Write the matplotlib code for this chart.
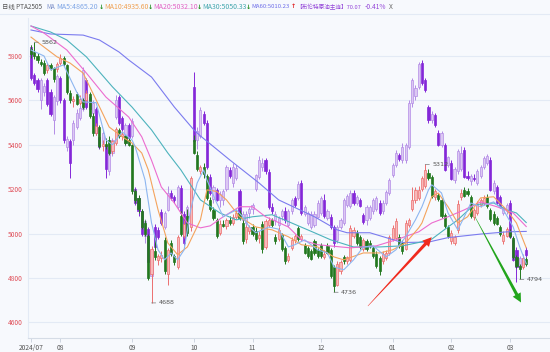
import numpy as np
import matplotlib
matplotlib.use('Agg')
import matplotlib.pyplot as plt
from matplotlib.patches import Polygon
from matplotlib.transforms import IdentityTransform
from matplotlib.lines import Line2D

plt.rcParams['font.family'] = ['Noto Sans CJK SC', 'DejaVu Sans']

# 交易日按月份
month_labels = ['2024/07', '08', '09', '10', '11', '12', '01', '02', '03']
month_days = [9, 22, 19, 18, 21, 22, 18, 18, 6]

# PTA2505 日线 OHLC
pta_open = [5830, 5820, 5800, 5775, 5770, 5735, 5760, 5745, 5740, 5770,
            5790, 5760, 5635, 5595, 5630, 5590, 5600, 5600, 5630, 5530,
            5455, 5480, 5395, 5405, 5420, 5370, 5410, 5465, 5440, 5440,
            5420, 5400, 5190, 5160, 5100, 5050, 4990, 4820, 4920, 4880,
            4890, 4970, 4820, 4960, 4900, 4850, 5080, 4990, 5080, 5030,
            5420, 5355, 5280, 5300, 5260, 5150, 5105, 5060, 5005, 5045,
            5035, 5060, 5050, 5075, 5095, 5050, 4975, 5010, 5030, 5010,
            4980, 5045, 4940, 5040, 5060, 4985, 4975, 4995, 4935, 4880,
            4935, 4970, 5025, 4975, 4950, 4935, 4920, 4965, 4925, 4950,
            4895, 4945, 4925, 4850, 4770, 4830, 4895, 4875, 4880, 4990,
            5005, 4985, 4930, 4965, 4960, 4935, 4910, 4890, 4875, 4890,
            4915, 4975, 4980, 4985, 4960, 4930, 5040, 5110, 5150, 5160,
            5200, 5215, 5275, 5255, 5165, 5175, 5150, 5085, 5030, 4965,
            4960, 5015, 5165, 5195, 5190, 5165, 5075, 5095, 5130, 5140,
            5165, 5105, 5090, 5070, 5030, 4965, 4990, 5010, 4980, 4895,
            4855, 4850, 4885]
pta_high = [5850, 5862, 5815, 5785, 5780, 5770, 5770, 5750, 5775, 5810,
            5800, 5765, 5645, 5620, 5640, 5625, 5610, 5645, 5640, 5545,
            5500, 5490, 5420, 5430, 5440, 5420, 5480, 5475, 5460, 5445,
            5430, 5405, 5200, 5175, 5110, 5060, 5000, 4945, 4990, 4910,
            4920, 4985, 4935, 4970, 4910, 4995, 5100, 5060, 5110, 5260,
            5445, 5370, 5310, 5320, 5270, 5165, 5120, 5070, 5060, 5060,
            5070, 5080, 5090, 5110, 5105, 5060, 5040, 5040, 5045, 5030,
            5010, 5055, 5065, 5075, 5070, 5000, 5030, 5005, 4945, 4915,
            4985, 5000, 5035, 5000, 4960, 4945, 4930, 4975, 4935, 4960,
            4925, 4960, 4935, 4860, 4875, 4880, 4905, 4900, 5040, 5030,
            5015, 4995, 4980, 4975, 4970, 4945, 4920, 4900, 4920, 4925,
            4995, 5040, 5070, 5000, 4970, 5060, 5070, 5210, 5210, 5215,
            5260, 5312, 5290, 5265, 5200, 5185, 5160, 5095, 5040, 5015,
            4995, 5150, 5200, 5210, 5205, 5175, 5115, 5145, 5160, 5175,
            5180, 5115, 5100, 5080, 5040, 5010, 5030, 5020, 4990, 4905,
            4865, 4900, 4895]
pta_low = [5790, 5785, 5770, 5755, 5715, 5725, 5735, 5685, 5730, 5760,
           5755, 5630, 5590, 5570, 5580, 5580, 5560, 5590, 5520, 5440,
           5445, 5385, 5370, 5380, 5355, 5360, 5400, 5430, 5420, 5400,
           5395, 5180, 5140, 5095, 5020, 4990, 4790, 4688, 4880, 4860,
           4870, 4820, 4770, 4900, 4860, 4840, 4990, 4980, 4990, 5010,
           5360, 5280, 5270, 5250, 5150, 5100, 5060, 4980, 4995, 5030,
           5020, 5040, 5040, 5065, 5060, 4955, 4960, 5000, 4990, 4965,
           4960, 4915, 4930, 5030, 5030, 4955, 4965, 4920, 4865, 4870,
           4925, 4960, 4965, 4965, 4910, 4890, 4880, 4905, 4890, 4890,
           4885, 4910, 4800, 4736, 4765, 4820, 4865, 4865, 4870, 4980,
           4950, 4930, 4920, 4920, 4935, 4890, 4845, 4815, 4865, 4880,
           4905, 4965, 4970, 4935, 4910, 4925, 5030, 5100, 5140, 5150,
           5190, 5205, 5240, 5160, 5150, 5145, 5070, 5025, 4980, 4955,
           4950, 5005, 5150, 5165, 5170, 5070, 5060, 5085, 5120, 5130,
           5115, 5055, 5040, 5040, 4990, 4955, 4985, 4980, 4885, 4845,
           4794, 4840, 4855]
pta_close = [5810, 5800, 5780, 5765, 5725, 5760, 5745, 5695, 5765, 5790,
             5765, 5640, 5600, 5605, 5585, 5605, 5570, 5635, 5530, 5455,
             5485, 5395, 5405, 5395, 5365, 5415, 5470, 5440, 5450, 5410,
             5400, 5190, 5150, 5110, 5030, 5000, 4800, 4930, 4895, 4900,
             4905, 4830, 4925, 4910, 4870, 4985, 5000, 5045, 5005, 5250,
             5365, 5290, 5300, 5270, 5160, 5110, 5070, 4990, 5045, 5035,
             5060, 5050, 5075, 5095, 5070, 4965, 5030, 5030, 5000, 4975,
             4995, 4930, 5055, 5060, 5040, 4965, 5015, 4930, 4875, 4900,
             4970, 4990, 4975, 4990, 4915, 4900, 4885, 4915, 4900, 4900,
             4910, 4915, 4810, 4765, 4865, 4870, 4875, 4895, 5025, 5015,
             4960, 4940, 4970, 4930, 4945, 4900, 4855, 4830, 4910, 4915,
             4985, 5025, 5055, 4945, 4920, 5050, 5060, 5150, 5195, 5195,
             5250, 5285, 5250, 5170, 5190, 5155, 5080, 5035, 4990, 5005,
             4985, 5135, 5185, 5170, 5180, 5080, 5105, 5135, 5150, 5160,
             5125, 5065, 5050, 5045, 5000, 4995, 5020, 4990, 4895, 4855,
             4840, 4890, 4865]

# 布伦特原油主连 (叠加, 按主图刻度)
brent_open = [5840, 5715, 5690, 5600, 5640, 5690, 5640, 5510, 5595, 5700,
              5600, 5390, 5415, 5420, 5480, 5520, 5560, 5690, 5615, 5545,
              5560, 5435, 5408, 5400, 5280, 5365, 5525, 5615, 5520, 5410,
              5490, 5440, 5200, 5160, 5100, 4990, 5020, 4810, 5030, 5017,
              5098, 5030, 5107, 5185, 5165, 5120, 5206, 5090, 5050, 5120,
              5660, 5420, 5440, 5540, 5500, 5256, 5155, 5195, 5150, 5150,
              5200, 5285, 5230, 5250, 5190, 5060, 5050, 5095, 5110, 5200,
              5256, 5300, 5330, 5278, 5120, 5060, 5040, 5080, 5100, 5040,
              5100, 5160, 5160, 5228, 5090, 5050, 5030, 5040, 5076, 5093,
              5150, 5070, 5076, 5030, 4970, 5030, 5050, 5130, 5125, 5183,
              5140, 5150, 5085, 5062, 5070, 5100, 5110, 5138, 5100, 5138,
              5183, 5265, 5310, 5355, 5332, 5330, 5390, 5588, 5620, 5660,
              5768, 5692, 5570, 5510, 5535, 5453, 5400, 5400, 5310, 5320,
              5240, 5280, 5290, 5377, 5260, 5235, 5250, 5230, 5260, 5300,
              5320, 5332, 5190, 5210, 5166, 5093, 5100, 5138, 4972, 4927,
              4850, 4860, 4927]
brent_high = [5850, 5725, 5700, 5700, 5680, 5700, 5650, 5625, 5720, 5710,
              5610, 5440, 5425, 5510, 5560, 5580, 5750, 5700, 5625, 5600,
              5570, 5445, 5460, 5410, 5385, 5430, 5625, 5625, 5530, 5500,
              5500, 5520, 5210, 5170, 5110, 5065, 5030, 4935, 5045, 5030,
              5110, 5100, 5215, 5195, 5175, 5220, 5220, 5100, 5130, 5200,
              5728, 5480, 5570, 5550, 5510, 5270, 5220, 5205, 5190, 5200,
              5310, 5300, 5320, 5310, 5200, 5100, 5100, 5120, 5140, 5270,
              5350, 5340, 5340, 5290, 5140, 5100, 5080, 5110, 5120, 5110,
              5160, 5170, 5235, 5240, 5130, 5100, 5100, 5100, 5150, 5170,
              5180, 5110, 5090, 5040, 5040, 5070, 5160, 5180, 5195, 5195,
              5175, 5160, 5095, 5130, 5130, 5160, 5170, 5150, 5150, 5195,
              5250, 5320, 5375, 5365, 5410, 5410, 5600, 5700, 5670, 5775,
              5780, 5700, 5580, 5550, 5545, 5465, 5460, 5410, 5350, 5330,
              5300, 5380, 5395, 5390, 5280, 5270, 5270, 5290, 5310, 5350,
              5360, 5345, 5240, 5220, 5175, 5125, 5140, 5150, 4985, 4940,
              4900, 4910, 4940]
brent_low = [5690, 5670, 5640, 5560, 5620, 5575, 5530, 5450, 5580, 5590,
             5410, 5370, 5250, 5400, 5470, 5510, 5550, 5560, 5550, 5530,
             5445, 5380, 5395, 5250, 5265, 5350, 5515, 5490, 5460, 5395,
             5420, 5430, 5130, 5080, 4990, 4960, 4860, 4780, 4930, 4975,
             5040, 5020, 5100, 5150, 5140, 5110, 5085, 4950, 5040, 5110,
             5400, 5380, 5430, 5490, 5290, 5175, 5140, 5145, 5120, 5130,
             5190, 5250, 5210, 5240, 5090, 5040, 5030, 5070, 5090, 5190,
             5245, 5280, 5270, 5110, 5090, 5040, 5030, 5060, 5050, 5030,
             5090, 5120, 5150, 5085, 5080, 5040, 5020, 5030, 5070, 5085,
             5070, 5060, 5020, 4940, 4960, 5020, 5040, 5120, 5115, 5130,
             5130, 5120, 5045, 5040, 5060, 5090, 5100, 5085, 5090, 5130,
             5175, 5255, 5300, 5325, 5320, 5320, 5380, 5570, 5600, 5650,
             5670, 5640, 5500, 5500, 5480, 5395, 5390, 5280, 5300, 5240,
             5230, 5270, 5280, 5250, 5240, 5220, 5235, 5220, 5250, 5290,
             5310, 5190, 5180, 5130, 5115, 5085, 5090, 4980, 4875, 4780,
             4840, 4850, 4895]
brent_close = [5700, 5680, 5650, 5690, 5665, 5585, 5540, 5615, 5710, 5600,
               5420, 5425, 5320, 5500, 5545, 5565, 5735, 5570, 5560, 5590,
               5455, 5390, 5453, 5290, 5375, 5420, 5600, 5500, 5470, 5490,
               5430, 5505, 5140, 5100, 5000, 5055, 4870, 4925, 4940, 4985,
               5048, 5093, 5185, 5160, 5150, 5210, 5095, 4960, 5120, 5190,
               5415, 5460, 5555, 5500, 5300, 5185, 5210, 5150, 5180, 5190,
               5300, 5260, 5300, 5295, 5095, 5090, 5090, 5110, 5130, 5265,
               5330, 5320, 5280, 5120, 5100, 5090, 5070, 5100, 5060, 5100,
               5150, 5130, 5225, 5093, 5120, 5093, 5090, 5090, 5138, 5160,
               5080, 5100, 5030, 4958, 5030, 5060, 5150, 5170, 5185, 5138,
               5165, 5125, 5053, 5120, 5120, 5150, 5160, 5093, 5140, 5188,
               5242, 5310, 5363, 5335, 5390, 5400, 5588, 5692, 5655, 5765,
               5680, 5647, 5512, 5540, 5490, 5400, 5453, 5287, 5345, 5245,
               5290, 5370, 5365, 5256, 5250, 5260, 5245, 5280, 5300, 5340,
               5350, 5197, 5230, 5138, 5120, 5120, 5130, 4986, 4882, 4850,
               4890, 4890, 4905]

# 均线 (读图取点)
ma5_idx = [0, 4, 6, 10, 14, 16, 20, 23, 25, 28, 31, 32, 35, 37, 39, 41, 43, 45, 47, 49,
           51, 53, 54, 57, 59, 63, 65, 67, 69, 73, 76, 79, 81, 84, 88, 91, 93, 96, 99,
           102, 105, 109, 112, 115, 118, 120, 122, 123, 126, 128, 131, 133, 135, 138,
           142, 145, 148, 150, 152]
ma5_val = [5827, 5800, 5737, 5760, 5638, 5593, 5590, 5422, 5400, 5458, 5422, 5390, 5242,
           5048, 4927, 4882, 4913, 4882, 4927, 5107, 5228, 5287, 5242, 5138, 5076, 5107,
           5076, 5030, 5004, 5030, 5020, 4940, 4950, 4972, 4927, 4913, 4850, 4837, 4882,
           4940, 4945, 4895, 4927, 4986, 5062, 5121, 5197, 5220, 5183, 5093, 5017, 5076,
           5138, 5121, 5143, 5107, 5030, 4940, 4865]
ma10_idx = [0, 4, 8, 12, 16, 20, 24, 28, 31, 34, 36, 39, 42, 45, 48, 52, 54, 57, 60, 64,
            69, 74, 79, 83, 88, 93, 96, 102, 107, 111, 115, 119, 120, 123, 125, 128, 131,
            134, 138, 142, 146, 149, 152]
ma10_val = [5885, 5840, 5796, 5768, 5723, 5602, 5480, 5436, 5408, 5363, 5287, 5107, 4958,
            4905, 4940, 5062, 5197, 5190, 5152, 5076, 5030, 5017, 4986, 4950, 4940, 4895,
            4882, 4913, 4913, 4927, 4958, 5026, 5048, 5166, 5183, 5121, 5048, 5076, 5161,
            5166, 5107, 5048, 4936]
ma20_idx = [0, 4, 11, 17, 23, 30, 34, 37, 40, 44, 48, 52, 55, 59, 64, 68, 72, 79, 83, 88,
            98, 106, 112, 119, 123, 128, 133, 138, 143, 148, 152]
ma20_val = [5935, 5903, 5827, 5723, 5615, 5525, 5436, 5330, 5210, 5138, 5048, 5026, 5035,
            5076, 5121, 5121, 5076, 5030, 4972, 4950, 4936, 4945, 4972, 5008, 5048, 5076,
            5107, 5143, 5121, 5093, 5032]
ma30_idx = [0, 6, 11, 17, 25, 31, 37, 42, 46, 52, 58, 63, 68, 74, 80, 87, 92, 99, 107, 114,
            119, 123, 128, 131, 136, 142, 146, 149, 152]
ma30_val = [5935, 5908, 5872, 5796, 5661, 5570, 5467, 5363, 5287, 5152, 5093, 5062, 5076,
            5085, 5048, 5004, 4972, 4940, 4940, 4945, 4960, 4975, 5030, 5062, 5130, 5138,
            5107, 5093, 5050]
ma60_idx = [0, 6, 16, 21, 27, 30, 37, 44, 50, 52, 61, 70, 76, 87, 94, 97, 104, 114, 122,
            128, 138, 146, 152]
ma60_val = [5917, 5899, 5894, 5872, 5818, 5782, 5705, 5570, 5467, 5440, 5332, 5228, 5152,
            5076, 5017, 5004, 5004, 4960, 4962, 4982, 4998, 5008, 5010]

# 高低点标注 (index, value)
marks = [(1, 5862), (37, 4688), (93, 4736), (121, 5312), (150, 4794)]

# 箭头 (index, price): 起点, 终点
red_arrow = [(103.4, 4674), (123, 4984)]
green_arrow = [(136.3, 5075), (150.4, 4690)]

# 顶部说明栏: 文本, 左端像素, 颜色, 字号
header_items = [
    ('日线 PTA2505', 2, '#555555', 4.6),
    ('MA', 46, '#7c8fc8', 4.4),
    ('MA5:4865.20', 56, '#7fa6e6', 5.1),
    ('MA10:4935.60', 104, '#f0a050', 5.0),
    ('MA20:5032.10', 153, '#e262c4', 5.0),
    ('MA30:5050.33', 202, '#43a7ae', 5.0),
    ('MA60:5010.23', 251, '#6c6ce8', 4.3),
    ('【布伦特原油主连】70.07', 296, '#9446d8', 4.1),
    ('-0.41%', 365, '#9446d8', 4.8),
    ('X', 389, '#666666', 4.8),
]
header_arrows = [('↓', 98.5, '#1e8c1e'), ('↓', 147.5, '#1e8c1e'), ('↓', 196.5, '#1e8c1e'),
                 ('↓', 245.5, '#1e8c1e'), ('↑', 290.5, '#e02828')]

W, H = 550, 352
bg = '#f7f9fd'
fig = plt.figure(figsize=(W / 100, H / 100), dpi=100, facecolor=bg)
ax = fig.add_axes([28 / W, (H - 338) / H, (W - 28) / W, (338 - 18) / H])
ax.set_facecolor(bg)

n = len(pta_close)
xs = np.arange(n)
ax.set_xlim(-0.92, 159.3)
ax.set_ylim(4530, 5971)

# 网格
for v in range(4600, 5801, 200):
    ax.axhline(v, color='#e3eaf5', lw=0.8, zorder=0)


def draw_candles(o, h, l, c, up_face, up_edge, down_face, z):
    o, h, l, c = map(np.asarray, (o, h, l, c))
    up = c >= o
    wick_col = np.where(up, up_edge, down_face)
    ax.vlines(xs, l, h, colors=list(wick_col), lw=0.7, zorder=z)
    bottom = np.minimum(o, c)
    height = np.maximum(np.abs(c - o), 3)
    ax.bar(xs[up], height[up], bottom=bottom[up], width=0.66, color=up_face,
           edgecolor=up_edge, linewidth=0.5, zorder=z + 0.1)
    ax.bar(xs[~up], height[~up], bottom=bottom[~up], width=0.66, color=down_face,
           edgecolor=down_face, linewidth=0.5, zorder=z + 0.1)


draw_candles(brent_open, brent_high, brent_low, brent_close,
             '#dcc8f3', '#b38ce6', '#8427d8', 2)
draw_candles(pta_open, pta_high, pta_low, pta_close,
             '#f8b9b9', '#ec6f6f', '#23781f', 3)

ma_lines = [(ma60_idx, ma60_val, '#7b7bef'), (ma30_idx, ma30_val, '#4db3bd'),
            (ma20_idx, ma20_val, '#ec6ccf'), (ma10_idx, ma10_val, '#f4a35c'),
            (ma5_idx, ma5_val, '#8db6f0')]
for idx, val, col in ma_lines:
    ax.plot(idx, val, color=col, lw=0.8, zorder=5, solid_joinstyle='round')

for i, v in marks:
    ax.annotate(str(v), xy=(i, v), xytext=(5, 0), textcoords='offset points',
                fontsize=4.6, color='#555555', ha='left', va='center',
                family=['DejaVu Sans'],
                arrowprops=dict(arrowstyle='-', color='#777777', lw=0.5,
                                shrinkA=0, shrinkB=0), zorder=6)


def taper_arrow(tail, head, color, w0=0.4, w1=3.2, hl=9, hw=9):
    p0 = ax.transData.transform(tail)
    p1 = ax.transData.transform(head)
    d = p1 - p0
    u = d / np.hypot(*d)
    nv = np.array([-u[1], u[0]])
    b = p1 - u * hl
    pts = [p0 + nv * w0 / 2, b + nv * w1 / 2, b + nv * hw / 2, p1,
           b - nv * hw / 2, b - nv * w1 / 2, p0 - nv * w0 / 2]
    ax.add_patch(Polygon(pts, closed=True, facecolor=color, edgecolor='none',
                         transform=IdentityTransform(), zorder=7))


taper_arrow(red_arrow[0], red_arrow[1], '#f02a1e')
taper_arrow(green_arrow[0], green_arrow[1], '#22a51c')

# 坐标轴
ticks = np.cumsum([0] + month_days[:-1])
ax.set_xticks(ticks)
ax.set_xticklabels(month_labels, fontsize=4.8, color='#555555')
ax.set_yticks(range(4600, 5801, 200))
ax.set_yticklabels([str(v) for v in range(4600, 5801, 200)], fontsize=4.8,
                   color='#e0505a')
ax.tick_params(axis='x', length=3, width=0.6, color='#c8d0dc', pad=1.5)
ax.tick_params(axis='y', length=0, pad=4)
for s in ['top', 'right']:
    ax.spines[s].set_visible(False)
ax.spines['bottom'].set_color('#d5dce6')
ax.spines['left'].set_color('#e3eaf5')
ax.spines['bottom'].set_linewidth(0.8)
ax.spines['left'].set_linewidth(0.8)

# 顶部说明栏
for txt, x0, col, fs in header_items:
    fig.text(x0 / W, 1 - 7 / H, txt, fontsize=fs, color=col, ha='left', va='center')
for txt, x0, col in header_arrows:
    fig.text(x0 / W, 1 - 7 / H, txt, fontsize=4.6, color=col, ha='left', va='center',
             family=['DejaVu Sans'], fontweight='bold')
fig.add_artist(Line2D([0, 1], [1 - 14 / H, 1 - 14 / H], color='#e3eaf5', lw=0.8))

fig.savefig('out.png', dpi=100, facecolor=bg)
